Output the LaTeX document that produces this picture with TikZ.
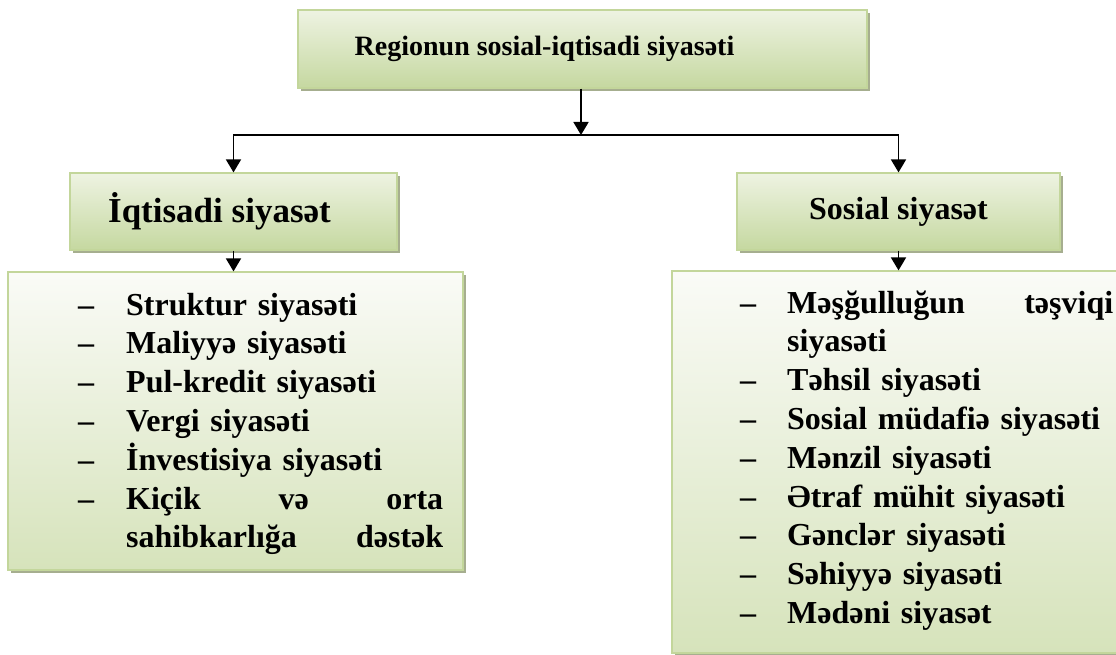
\documentclass[tikz,border=0pt]{standalone}
\usepackage{fontspec}
\setmainfont{Liberation Serif}
\usetikzlibrary{arrows.meta,shadows}
\definecolor{boxlight}{HTML}{EEF3E2}
\definecolor{boxgreen}{HTML}{C5D8A0}
\definecolor{listlight}{HTML}{FAFBF7}
\definecolor{listgreen}{HTML}{D6E3BB}
\definecolor{boxborder}{HTML}{C3D69B}
\definecolor{shadowcol}{HTML}{A6AE8F}
% one list line: dash column of width #1, then the text
\newcommand\listitem[2]{\noindent\makebox[#1][l]{–}#2\par}
% continuation line of an item, indented by #1
\newcommand\listcont[2]{\noindent\hspace*{#1}#2\par}
\begin{document}
\begin{tikzpicture}[x=1pt,y=-1pt,
  box/.style={draw=boxborder, line width=1.2pt, top color=boxlight, bottom color=boxgreen,
    drop shadow={shadow xshift=3pt, shadow yshift=-3pt, fill=shadowcol, opacity=1},
    inner sep=0pt, align=center},
  listbox/.style={draw=boxborder, line width=1.2pt, top color=listlight, bottom color=listgreen,
    drop shadow={shadow xshift=3pt, shadow yshift=-3pt, fill=shadowcol, opacity=1},
    inner sep=0pt},
  listtext/.style={inner sep=0pt, font=\bfseries\fontsize{32}{38.8}\selectfont},
  conn/.style={line width=1.5pt},
  arr/.style={line width=1.8pt, -{Triangle[width=15pt,length=13pt]}}
]
\path[use as bounding box] (0,0) rectangle (1116,655);
\clip (0,0) rectangle (1116,655);

\node[box, minimum width=569pt, minimum height=78pt, font=\bfseries\fontsize{28}{32}\selectfont] (top) at (582.5,49) {Regionun sosial-iqtisadi siyasəti\hspace*{76pt}};
\node[box, minimum width=327pt, minimum height=77pt, font=\bfseries\fontsize{35}{38}\selectfont] (left) at (233.5,211.5) {İqtisadi siyasət\hspace*{28pt}};
\node[box, minimum width=323pt, minimum height=77pt, font=\bfseries\fontsize{32}{36}\selectfont] (right) at (898.5,211.5) {Sosial siyasət};

\node[listbox, minimum width=455pt, minimum height=298pt] (llist) at (235.5,421) {};
\node[listbox, minimum width=470pt, minimum height=382pt] (rlist) at (907,462) {};

\node[listtext, text width=365pt, anchor=base west] (ltext) at (78,315) {%
\listitem{48pt}{Struktur siyasəti}
\listitem{48pt}{Maliyyə siyasəti}
\listitem{48pt}{Pul-kredit siyasəti}
\listitem{48pt}{Vergi siyasəti}
\listitem{48pt}{İnvestisiya siyasəti}
\listitem{48pt}{\hbox to 317pt{Kiçik\hfill və\hfill orta}}
\listcont{48pt}{\hbox to 317pt{sahibkarlığa\hfill dəstək}}};

\node[listtext, text width=373pt, anchor=base west] (rtext) at (740,313) {%
\listitem{47pt}{\hbox to 326pt{Məşğulluğun\hfill təşviqi}}
\listcont{47pt}{siyasəti}
\listitem{47pt}{Təhsil siyasəti}
\listitem{47pt}{Sosial müdafiə siyasəti}
\listitem{47pt}{Mənzil siyasəti}
\listitem{47pt}{Ətraf mühit siyasəti}
\listitem{47pt}{Gənclər siyasəti}
\listitem{47pt}{Səhiyyə siyasəti}
\listitem{47pt}{Mədəni siyasət}};

\coordinate (junc) at (581,135);
\coordinate (jl) at (left.north |- junc);
\coordinate (jr) at (right.north |- junc);
\draw[arr] (top.south -| junc) -- (junc);
\draw[conn] (jl) -- (jr);
\draw[arr] ([yshift=0.75pt]jl) -- (left.north);
\draw[arr] ([yshift=0.75pt]jr) -- (right.north);
\draw[arr] (left.south) -- (left.south |- llist.north);
\draw[arr] (right.south) -- (right.south |- rlist.north);
\end{tikzpicture}
\end{document}
